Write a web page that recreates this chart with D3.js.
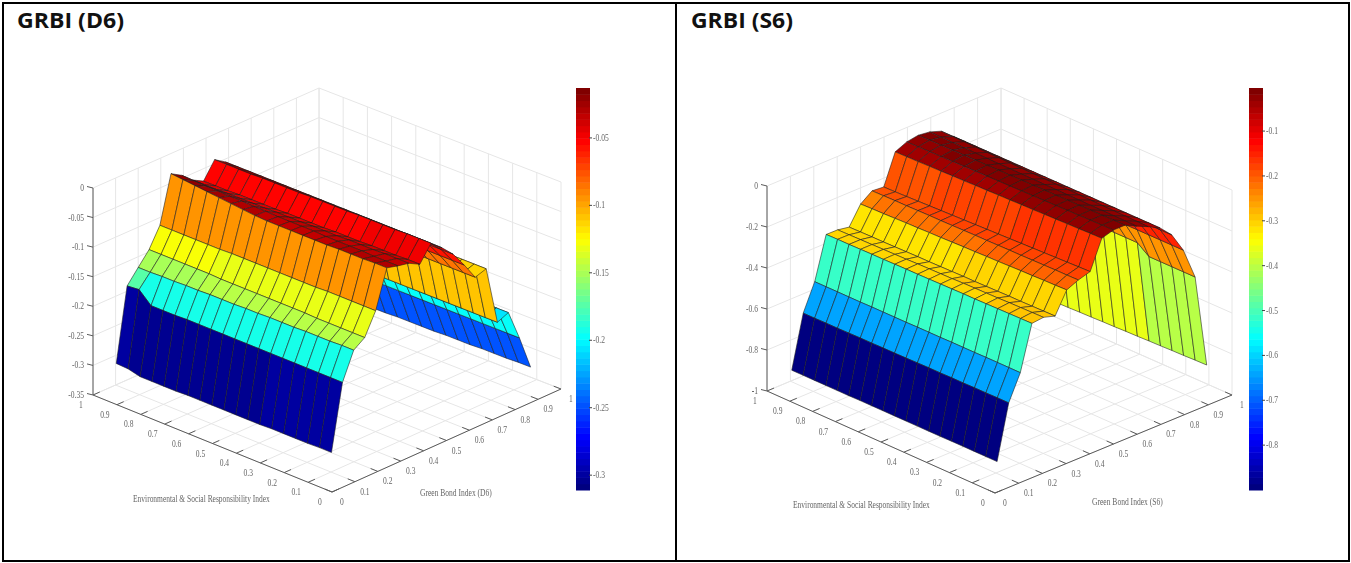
<!DOCTYPE html>
<html>
<head>
<meta charset="utf-8">
<style>
  html, body { margin: 0; padding: 0; background: #fff; }
  svg { display: block; }
  .grid { stroke: #e6e6e6; stroke-width: 1; fill: none; }
  .axis-line { stroke: #5a5a5a; stroke-width: 1; fill: none; }
  .tick-label { font-family: "Liberation Serif", serif; font-size: 10.5px; fill: #666; }
  .axis-title { font-family: "Liberation Serif", serif; font-size: 10.5px; fill: #666; }
  .panel-title { font-family: "Open Sans", sans-serif; font-weight: 700; font-size: 21px; fill: #111; }
  .plot { filter: blur(0.35px); }
</style>
<script src="https://cdn.jsdelivr.net/npm/d3@7"></script>
</head>
<body>
<div id="chart"></div>
<script>
// values
var floorTicks = [0, 0.1, 0.2, 0.3, 0.4, 0.5, 0.6, 0.7, 0.8, 0.9, 1];
var yGrid = [0.05, 0.1, 0.15, 0.2, 0.25, 0.3, 0.35, 0.4, 0.45, 0.5, 0.55, 0.6, 0.65, 0.7, 0.75, 0.8, 0.85, 0.9, 0.95];

var xGridD6 = [0.05, 0.098, 0.147, 0.195, 0.243, 0.292, 0.34, 0.388, 0.436, 0.485, 0.533, 0.581, 0.63, 0.678, 0.726, 0.775, 0.823, 0.871, 0.92];
var zTicksD6 = [0, -0.05, -0.1, -0.15, -0.2, -0.25, -0.3, -0.35];
var barTicksD6 = [-0.05, -0.1, -0.15, -0.2, -0.25, -0.3];
var barRangeD6 = [-0.311, -0.013];
// one row per Green Bond node, one column per E&S node
var zD6 = [
  [-0.300, -0.300, -0.301, -0.301, -0.301, -0.301, -0.302, -0.302, -0.302, -0.302, -0.302, -0.302, -0.302, -0.303, -0.303, -0.303, -0.303, -0.298, -0.297],
  [-0.190, -0.190, -0.190, -0.190, -0.190, -0.190, -0.190, -0.190, -0.190, -0.190, -0.190, -0.190, -0.190, -0.190, -0.191, -0.191, -0.191, -0.172, -0.174],
  [-0.144, -0.144, -0.145, -0.145, -0.145, -0.146, -0.146, -0.146, -0.147, -0.147, -0.148, -0.148, -0.148, -0.149, -0.149, -0.150, -0.150, -0.151, -0.151],
  [-0.131, -0.131, -0.131, -0.131, -0.131, -0.130, -0.130, -0.130, -0.130, -0.130, -0.130, -0.130, -0.130, -0.129, -0.129, -0.129, -0.129, -0.129, -0.129],
  [-0.094, -0.094, -0.094, -0.094, -0.094, -0.095, -0.095, -0.095, -0.095, -0.095, -0.095, -0.095, -0.095, -0.096, -0.096, -0.096, -0.096, -0.096, -0.096],
  [-0.030, -0.030, -0.031, -0.031, -0.031, -0.032, -0.032, -0.032, -0.032, -0.032, -0.032, -0.031, -0.029, -0.027, -0.025, -0.023, -0.021, -0.019, -0.017],
  [-0.035, -0.035, -0.035, -0.034, -0.034, -0.034, -0.034, -0.033, -0.033, -0.033, -0.033, -0.032, -0.032, -0.031, -0.031, -0.030, -0.030, -0.029, -0.028],
  [-0.039, -0.039, -0.039, -0.040, -0.040, -0.040, -0.041, -0.041, -0.041, -0.042, -0.042, -0.042, -0.043, -0.043, -0.043, -0.043, -0.044, -0.044, -0.044],
  [-0.049, -0.049, -0.050, -0.050, -0.050, -0.051, -0.051, -0.051, -0.052, -0.052, -0.052, -0.052, -0.053, -0.053, -0.053, -0.053, -0.054, -0.054, -0.054],
  [-0.022, -0.022, -0.022, -0.023, -0.023, -0.023, -0.023, -0.024, -0.024, -0.024, -0.024, -0.025, -0.025, -0.025, -0.025, -0.026, -0.026, -0.026, -0.026],
  [-0.038, -0.038, -0.038, -0.038, -0.038, -0.038, -0.038, -0.038, -0.038, -0.038, -0.038, -0.038, -0.038, -0.038, -0.038, -0.038, -0.038, -0.038, -0.038],
  [-0.057, -0.057, -0.057, -0.057, -0.057, -0.057, -0.057, -0.057, -0.057, -0.057, -0.057, -0.057, -0.057, -0.057, -0.057, -0.057, -0.057, -0.057, -0.057],
  [-0.084, -0.084, -0.084, -0.084, -0.084, -0.084, -0.084, -0.084, -0.084, -0.084, -0.084, -0.084, -0.084, -0.084, -0.084, -0.084, -0.084, -0.084, -0.084],
  [-0.113, -0.113, -0.113, -0.113, -0.113, -0.113, -0.113, -0.113, -0.113, -0.113, -0.113, -0.113, -0.113, -0.113, -0.113, -0.113, -0.113, -0.113, -0.113],
  [-0.107, -0.107, -0.107, -0.107, -0.107, -0.107, -0.107, -0.107, -0.107, -0.107, -0.107, -0.107, -0.107, -0.107, -0.107, -0.107, -0.107, -0.107, -0.107],
  [-0.206, -0.206, -0.206, -0.206, -0.206, -0.206, -0.206, -0.206, -0.206, -0.206, -0.206, -0.206, -0.206, -0.206, -0.206, -0.206, -0.206, -0.206, -0.206],
  [-0.198, -0.198, -0.198, -0.198, -0.198, -0.198, -0.198, -0.198, -0.198, -0.198, -0.198, -0.198, -0.198, -0.198, -0.198, -0.198, -0.198, -0.198, -0.198],
  [-0.249, -0.249, -0.249, -0.249, -0.249, -0.249, -0.249, -0.249, -0.249, -0.249, -0.249, -0.249, -0.249, -0.249, -0.249, -0.249, -0.249, -0.249, -0.249],
  [-0.307, -0.307, -0.308, -0.308, -0.308, -0.309, -0.309, -0.309, -0.310, -0.310, -0.310, -0.310, -0.311, -0.311, -0.311, -0.311, -0.311, -0.311, -0.311]
];

var xGridS6 = [0.057, 0.106, 0.155, 0.204, 0.253, 0.302, 0.351, 0.4, 0.45, 0.499, 0.548, 0.597, 0.646, 0.695, 0.745, 0.794, 0.843, 0.893, 0.942];
var zTicksS6 = [0, -0.2, -0.4, -0.6, -0.8, -1];
var barTicksS6 = [-0.1, -0.2, -0.3, -0.4, -0.5, -0.6, -0.7, -0.8];
var barRangeS6 = [-0.9, -0.004];
var zS6 = [
  [-0.899, -0.899, -0.899, -0.899, -0.899, -0.900, -0.900, -0.900, -0.900, -0.900, -0.900, -0.900, -0.900, -0.901, -0.901, -0.901, -0.901, -0.901, -0.901],
  [-0.636, -0.636, -0.637, -0.637, -0.638, -0.638, -0.639, -0.639, -0.640, -0.641, -0.642, -0.642, -0.643, -0.643, -0.644, -0.645, -0.645, -0.646, -0.646],
  [-0.512, -0.512, -0.512, -0.512, -0.513, -0.513, -0.513, -0.514, -0.514, -0.514, -0.515, -0.515, -0.515, -0.515, -0.516, -0.516, -0.516, -0.516, -0.516],
  [-0.295, -0.296, -0.297, -0.298, -0.299, -0.300, -0.300, -0.301, -0.302, -0.303, -0.304, -0.304, -0.305, -0.306, -0.306, -0.307, -0.308, -0.308, -0.309],
  [-0.289, -0.290, -0.291, -0.292, -0.294, -0.295, -0.296, -0.297, -0.299, -0.300, -0.301, -0.302, -0.304, -0.305, -0.306, -0.307, -0.308, -0.309, -0.310],
  [-0.306, -0.307, -0.308, -0.309, -0.309, -0.310, -0.311, -0.312, -0.312, -0.313, -0.314, -0.315, -0.315, -0.316, -0.317, -0.318, -0.318, -0.319, -0.320],
  [-0.202, -0.204, -0.205, -0.207, -0.208, -0.210, -0.212, -0.213, -0.215, -0.216, -0.218, -0.220, -0.221, -0.223, -0.224, -0.226, -0.228, -0.229, -0.231],
  [-0.177, -0.178, -0.178, -0.179, -0.180, -0.181, -0.181, -0.182, -0.183, -0.183, -0.184, -0.185, -0.186, -0.186, -0.187, -0.188, -0.188, -0.189, -0.190],
  [-0.160, -0.162, -0.164, -0.166, -0.168, -0.170, -0.172, -0.174, -0.176, -0.178, -0.180, -0.182, -0.184, -0.186, -0.188, -0.190, -0.192, -0.194, -0.195],
  [-0.021, -0.022, -0.024, -0.025, -0.027, -0.028, -0.030, -0.031, -0.033, -0.034, -0.036, -0.037, -0.039, -0.040, -0.042, -0.043, -0.045, -0.046, -0.047],
  [-0.004, -0.005, -0.006, -0.007, -0.008, -0.009, -0.010, -0.011, -0.012, -0.013, -0.014, -0.015, -0.016, -0.017, -0.018, -0.019, -0.020, -0.021, -0.022],
  [-0.004, -0.004, -0.005, -0.005, -0.006, -0.006, -0.007, -0.007, -0.008, -0.008, -0.009, -0.009, -0.010, -0.010, -0.011, -0.011, -0.012, -0.012, -0.013],
  [-0.032, -0.031, -0.031, -0.030, -0.030, -0.029, -0.029, -0.028, -0.028, -0.027, -0.027, -0.026, -0.026, -0.025, -0.024, -0.023, -0.022, -0.021, -0.020],
  [-0.058, -0.057, -0.056, -0.055, -0.054, -0.053, -0.052, -0.051, -0.050, -0.049, -0.048, -0.047, -0.046, -0.045, -0.044, -0.043, -0.042, -0.041, -0.040],
  [-0.088, -0.088, -0.088, -0.088, -0.088, -0.088, -0.088, -0.088, -0.088, -0.088, -0.088, -0.088, -0.088, -0.088, -0.088, -0.088, -0.088, -0.088, -0.088],
  [-0.145, -0.145, -0.145, -0.145, -0.145, -0.145, -0.145, -0.145, -0.145, -0.145, -0.145, -0.145, -0.145, -0.145, -0.145, -0.145, -0.145, -0.145, -0.145],
  [-0.243, -0.243, -0.243, -0.243, -0.243, -0.243, -0.243, -0.243, -0.243, -0.243, -0.243, -0.243, -0.243, -0.243, -0.243, -0.243, -0.243, -0.243, -0.243],
  [-0.398, -0.398, -0.398, -0.398, -0.398, -0.355, -0.355, -0.355, -0.355, -0.355, -0.355, -0.355, -0.355, -0.355, -0.355, -0.355, -0.355, -0.355, -0.355],
  [-0.851, -0.852, -0.854, -0.855, -0.857, -0.858, -0.860, -0.861, -0.863, -0.864, -0.866, -0.867, -0.869, -0.870, -0.872, -0.874, -0.876, -0.878, -0.880]
];

var jetStops = [0, 0.125, 0.375, 0.625, 0.875, 1];
var jetColors = ["#000080", "#0000ff", "#00ffff", "#ffff00", "#ff0000", "#800000"];

var WIDTH = 1351, HEIGHT = 563;

var svg = d3.select("#chart").append("svg")
  .attr("width", WIDTH)
  .attr("height", HEIGHT);

var jet = d3.scaleLinear().domain(jetStops).range(jetColors);

// the scan is a table with thick black rules
var rules = [
  [2, 2, 1348, 2],
  [2, 560, 1348, 2],
  [2, 2, 2, 560],
  [1348, 2, 2, 560],
  [675, 2, 2, 560]
];
svg.selectAll(".rule")
  .data(rules)
  .enter().append("rect")
  .attr("class", "rule")
  .attr("x", d => d[0])
  .attr("y", d => d[1])
  .attr("width", d => d[2])
  .attr("height", d => d[3])
  .attr("fill", "#000");

/*
 * One surface panel. Floor corners are given directly so a little of the
 * original perspective survives; B-R is the x axis, L-K the back edge.
 */
function drawPanel(p) {
  svg.append("text")
    .attr("class", "panel-title")
    .attr("x", p.title.x)
    .attr("y", 28)
    .attr("textLength", p.title.w)
    .attr("lengthAdjust", "spacingAndGlyphs")
    .text(p.title.text);

  var g = svg.append("g").attr("class", "plot");

  var nearEdge = d3.scaleLinear().domain([0, 1]).range([p.B, p.R]);
  var farEdge = d3.scaleLinear().domain([0, 1]).range([p.L, p.K]);
  var zMin = p.zTicks[p.zTicks.length - 1];
  var lift = d3.scaleLinear().domain([zMin, 0]).range([0, p.zHeight]);

  function project(x, y, z) {
    var pt = d3.interpolateArray(nearEdge(x), farEdge(x))(y);
    return [pt[0], pt[1] - lift(z)];
  }

  var line = d3.line();

  // walls and floor
  var gridLines = [];
  floorTicks.forEach(function(t) {
    gridLines.push([project(t, 0, zMin), project(t, 1, zMin)]);
    gridLines.push([project(0, t, zMin), project(1, t, zMin)]);
    gridLines.push([project(t, 1, zMin), project(t, 1, 0)]);
    gridLines.push([project(1, t, zMin), project(1, t, 0)]);
  });
  p.zTicks.forEach(function(t) {
    gridLines.push([project(0, 1, t), project(1, 1, t), project(1, 0, t)]);
  });
  g.append("g").selectAll("path")
    .data(gridLines)
    .enter().append("path")
    .attr("class", "grid")
    .attr("d", line);

  // axes
  var axisLines = [
    [project(0, 0, zMin), project(1, 0, zMin)],
    [project(0, 0, zMin), project(0, 1, zMin)],
    [project(0, 1, zMin), project(0, 1, 0)]
  ];
  floorTicks.forEach(function(t) {
    axisLines.push([project(t, 0, zMin), project(t, 0.03, zMin)]);
    axisLines.push([project(0, t, zMin), project(0.03, t, zMin)]);
  });
  p.zTicks.forEach(function(t) {
    var a = project(0, 1, t);
    axisLines.push([a, [a[0] - 6, a[1] - 1.5]]);
  });
  g.append("g").selectAll("path")
    .data(axisLines)
    .enter().append("path")
    .attr("class", "axis-line")
    .attr("d", line);

  // the scanned labels are narrow, so squeeze them to 72% width
  function squeezed(sel, px, py, anchor) {
    sel.attr("class", "tick-label")
      .attr("text-anchor", anchor)
      .attr("x", px)
      .attr("y", py)
      .text(d => String(d))
      .attr("lengthAdjust", "spacingAndGlyphs")
      .attr("textLength", function() { return this.getComputedTextLength() * 0.72; });
  }

  g.append("g").selectAll("text")
    .data(floorTicks)
    .enter().append("text")
    .call(squeezed, d => project(d, 0, zMin)[0] + 10, d => project(d, 0, zMin)[1] + 13, "middle");

  g.append("g").selectAll("text")
    .data(floorTicks)
    .enter().append("text")
    .call(squeezed, d => project(0, d, zMin)[0] - 12, d => project(0, d, zMin)[1] + 13, "middle");

  g.append("g").selectAll("text")
    .data(p.zTicks)
    .enter().append("text")
    .call(squeezed, d => project(0, 1, d)[0] - 9, d => project(0, 1, d)[1] + 3, "end");

  // axis titles: scaled to the width they have in the picture
  g.selectAll(".axis-title")
    .data(p.titles)
    .enter().append("text")
    .attr("class", "axis-title")
    .text(d => d.text)
    .attr("transform", function(d) {
      return "translate(" + d.x + "," + d.y + ") scale(" + d.w / this.getComputedTextLength() + ",1)";
    });

  // 64 level jet, flat coloured from the first corner like surf does
  var level = d3.scaleQuantize().domain(p.barRange).range(d3.range(64));
  var colorOf = z => jet(level(Math.max(p.barRange[0], Math.min(p.barRange[1], z))) / 63);

  // back to front, so nearer cells paint over farther ones
  var cells = [];
  for (var i = p.xGrid.length - 2; i >= 0; i--) {
    for (var j = yGrid.length - 2; j >= 0; j--) {
      cells.push({ i: i, j: j });
    }
  }
  g.append("g").selectAll("path")
    .data(cells)
    .enter().append("path")
    .attr("d", d => line([
      project(p.xGrid[d.i], yGrid[d.j], p.z[d.i][d.j]),
      project(p.xGrid[d.i + 1], yGrid[d.j], p.z[d.i + 1][d.j]),
      project(p.xGrid[d.i + 1], yGrid[d.j + 1], p.z[d.i + 1][d.j + 1]),
      project(p.xGrid[d.i], yGrid[d.j + 1], p.z[d.i][d.j + 1])
    ]) + "Z")
    .attr("fill", d => colorOf(p.z[d.i][d.j]))
    .attr("stroke", "#1c1c1c")
    .attr("stroke-opacity", 0.75)
    .attr("stroke-width", 0.75)
    .attr("stroke-linejoin", "round");

  // colorbar
  var barY = d3.scaleLinear().domain(p.barRange).range([490, 88]);
  var barStep = (p.barRange[1] - p.barRange[0]) / 64;
  g.append("g").selectAll("rect")
    .data(d3.range(64))
    .enter().append("rect")
    .attr("x", p.barX)
    .attr("width", 14)
    .attr("y", d => barY(p.barRange[0] + (d + 1) * barStep))
    .attr("height", d => barY(p.barRange[0] + d * barStep) - barY(p.barRange[0] + (d + 1) * barStep) + 0.5)
    .attr("fill", d => jet(d / 63));

  g.append("g").selectAll("line")
    .data(p.barTicks)
    .enter().append("line")
    .attr("x1", p.barX + 13)
    .attr("x2", p.barX + 16)
    .attr("y1", d => barY(d))
    .attr("y2", d => barY(d))
    .attr("stroke", "#444");

  g.append("g").selectAll("text")
    .data(p.barTicks)
    .enter().append("text")
    .call(squeezed, d => p.barX + 17, d => barY(d) + 3, "start");
}

drawPanel({
  title: { text: "GRBI (D6)", x: 17, w: 107 },
  B: [332, 492], R: [561, 389], L: [93, 395], K: [319, 295],
  zHeight: 207,
  zTicks: zTicksD6,
  xGrid: xGridD6,
  z: zD6,
  barX: 576,
  barRange: barRangeD6,
  barTicks: barTicksD6,
  titles: [
    { text: "Environmental & Social Responsibility Index", x: 133, y: 502, w: 137 },
    { text: "Green Bond Index (D6)", x: 420, y: 496, w: 72 }
  ]
});

drawPanel({
  title: { text: "GRBI (S6)", x: 691, w: 102 },
  B: [995, 493], R: [1232, 395], L: [767, 391], K: [1001, 293],
  zHeight: 205,
  zTicks: zTicksS6,
  xGrid: xGridS6,
  z: zS6,
  barX: 1249,
  barRange: barRangeS6,
  barTicks: barTicksS6,
  titles: [
    { text: "Environmental & Social Responsibility Index", x: 793, y: 508, w: 137 },
    { text: "Green Bond Index (S6)", x: 1092, y: 505, w: 71 }
  ]
});
</script>
</body>
</html>
